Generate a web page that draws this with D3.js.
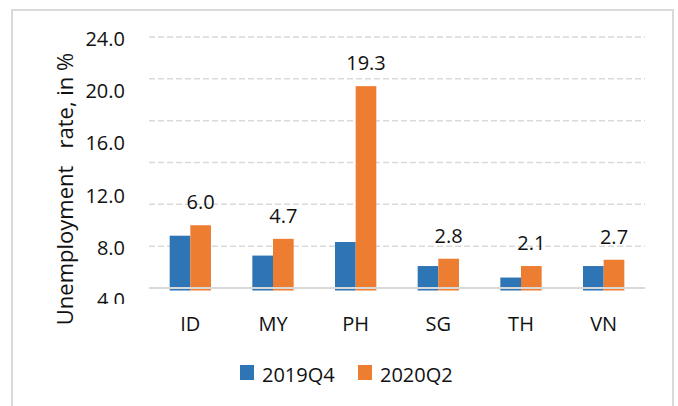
<!DOCTYPE html>
<html>
<head>
    <style>
        body { margin: 0; background: #fff; }
        text { font-family: "Open Sans", sans-serif; fill: #111; }
    </style>
    <script src="https://d3js.org/d3.v7.min.js"></script>
</head>
<body>
    <svg width="678" height="406"></svg>
    <script>
        // andmed
        var countries = ["ID", "MY", "PH", "SG", "TH", "VN"];
        var q2019 = [5.0, 3.1, 4.4, 2.1, 1.0, 2.1];
        var q2020 = [6.0, 4.7, 19.3, 2.8, 2.1, 2.7];
        var series = ["2019Q4", "2020Q2"];
        var colors = ["#2e75b6", "#ed7d31"];
        var gridTicks = [0, 4, 8, 12, 16, 20, 24];
        var labelTicks = [4, 8, 12, 16, 20, 24];

        var svg = d3.select("svg");

        // välimine raam
        svg.append("rect")
            .attr("x", 12).attr("y", 10)
            .attr("width", 661).attr("height", 420)
            .attr("fill", "none")
            .attr("stroke", "#d9d9d9")
            .attr("stroke-width", 2);

        var x = d3.scaleBand().domain(countries).range([149, 645]);
        var y = d3.scaleLinear().domain([0, 24]).range([288, 37]);
        // telje sildid on pildil natuke teises mõõtkavas
        var yLab = d3.scaleLinear().domain([4, 24]).range([300, 39]);

        var bw = x.bandwidth() * 0.25;

        // ruudustik
        svg.selectAll(".grid")
            .data(gridTicks.filter(function(d) { return d > 0; }))
            .enter().append("line")
            .attr("x1", 149).attr("x2", 645)
            .attr("y1", function(d) { return y(d); })
            .attr("y2", function(d) { return y(d); })
            .attr("stroke", "#d9d9d9")
            .attr("stroke-width", 1.5)
            .attr("stroke-dasharray", "6,3");

        // tulbad
        var groups = svg.selectAll(".grp")
            .data(countries)
            .enter().append("g")
            .attr("transform", function(d) {
                return "translate(" + (x(d) + x.bandwidth() / 2 - bw) + ",0)";
            });

        [q2019, q2020].forEach(function(vals, s) {
            groups.append("rect")
                .attr("x", s * bw)
                .attr("y", function(d, i) { return y(vals[i]); })
                .attr("width", bw)
                .attr("height", function(d, i) { return y(0) - y(vals[i]) + 2.5; })
                .attr("fill", colors[s]);
        });

        // x-telg
        svg.append("line")
            .attr("x1", 149).attr("x2", 645)
            .attr("y1", y(0)).attr("y2", y(0))
            .attr("stroke", "#d9d9d9")
            .attr("stroke-width", 2);

        // väärtused oranžide tulpade kohal
        groups.append("text")
            .attr("x", bw * 1.5)
            .attr("y", function(d, i) { return y(q2020[i]) - 16; })
            .attr("text-anchor", "middle")
            .style("font-size", "20px")
            .text(function(d, i) { return q2020[i].toFixed(1); });

        // kategooriad
        svg.selectAll(".cat")
            .data(countries)
            .enter().append("text")
            .attr("x", function(d) { return x(d) + x.bandwidth() / 2; })
            .attr("y", 331)
            .attr("text-anchor", "middle")
            .style("font-size", "20px")
            .text(function(d) { return d; });

        // y sildid, alumine lõigatud
        svg.append("clipPath").attr("id", "lab")
            .append("rect").attr("x", 0).attr("y", 0).attr("width", 140).attr("height", 304);

        svg.append("g").attr("clip-path", "url(#lab)")
            .selectAll("text")
            .data(labelTicks)
            .enter().append("text")
            .attr("x", 125)
            .attr("y", function(d) { return yLab(d) + 7; })
            .attr("text-anchor", "end")
            .style("font-size", "20px")
            .text(function(d) { return d.toFixed(1); });

        // telje pealkiri
        svg.append("text")
            .attr("transform", "translate(73,189) rotate(-90)")
            .attr("text-anchor", "middle")
            .attr("xml:space", "preserve")
            .style("font-size", "22px")
            .style("white-space", "pre")
            .text("Unemployment   rate, in %");

        // legend
        var legX = [240, 358];
        series.forEach(function(name, s) {
            svg.append("rect")
                .attr("x", legX[s]).attr("y", 365)
                .attr("width", 14).attr("height", 15)
                .attr("fill", colors[s]);
            svg.append("text")
                .attr("x", legX[s] + 22).attr("y", 382)
                .style("font-size", "20px")
                .text(name);
        });
    </script>
</body>
</html>
